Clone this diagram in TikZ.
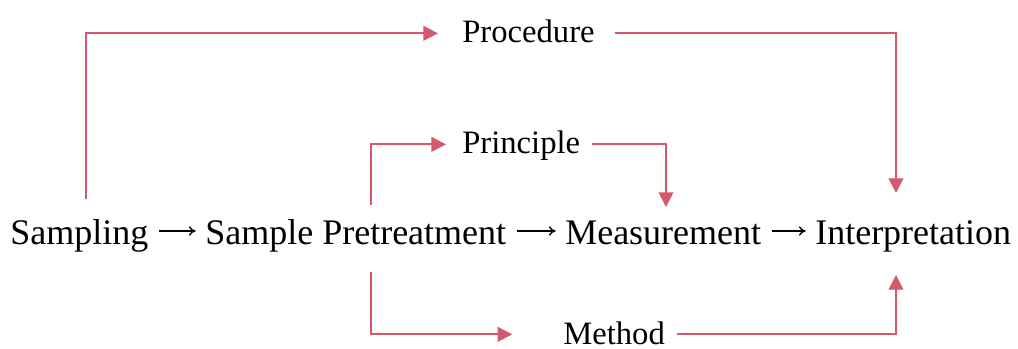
\documentclass[tikz,border=0pt]{standalone}
\usepackage{fontspec}
\setmainfont{Liberation Serif}
\usetikzlibrary{arrows.meta,positioning}
\definecolor{flowred}{RGB}{214,88,108}
\tikzset{
  stage/.style={font=\fontsize{27}{30}\selectfont, inner sep=0pt, anchor=base west, text height=21pt, text depth=0pt},
  aspect/.style={font=\fontsize{24.5}{28}\selectfont, inner sep=0pt, anchor=base west, text height=14.5pt, text depth=0pt},
  thento/.style={line width=1pt, -{To[length=5pt,width=7pt]}, shorten <=8pt, shorten >=7pt},
  flow/.style={flowred, line width=1.4pt, -{Triangle[length=11pt,width=11pt]}}
}
\begin{document}
\begin{tikzpicture}[x=0.75pt,y=-0.75pt]
    \useasboundingbox (0,0) rectangle (1018,349);
    %main line
    \node[stage] (sampling) at (10,245) {Sampling};
    \node[stage] (pretreat) at (205,245) {Sample Pretreatment};
    \node[stage] (measure) at (565,245) {Measurement};
    \node[stage] (interp) at (815,245) {Interpretation};
    \draw[thento] (sampling) -- (pretreat);
    \draw[thento] (pretreat) -- (measure);
    \draw[thento] (measure) -- (interp);
    %
    %aspects
    \node[aspect] (procedure) at (462,43) {Procedure};
    \node[aspect] (principle) at (462,154) {Principle};
    \node[aspect] (method) at (563,344) {Method};
    %
    %ends on the main line
    \coordinate (sampout) at (86,199);
    \coordinate (pretup) at (371,205);
    \coordinate (pretdown) at (371,272);
    \coordinate (measin) at (666,207);
    \coordinate (interpin) at (896,193);
    \coordinate (interpbelow) at (896,275);
    %
    %Procedure
    \draw[flow, shorten >=18pt] (sampout) |- (procedure);
    \draw[flow, shorten <=15pt] (procedure) -| (interpin);
    %Principle
    \draw[flow, shorten >=12pt] (pretup) |- (principle);
    \draw[flow, shorten <=9pt] (principle) -| (measin);
    %Method
    \draw[flow, shorten >=38pt] (pretdown) |- (method);
    \draw[flow, shorten <=9pt] (method) -| (interpbelow);
    %
\end{tikzpicture}
\end{document}
